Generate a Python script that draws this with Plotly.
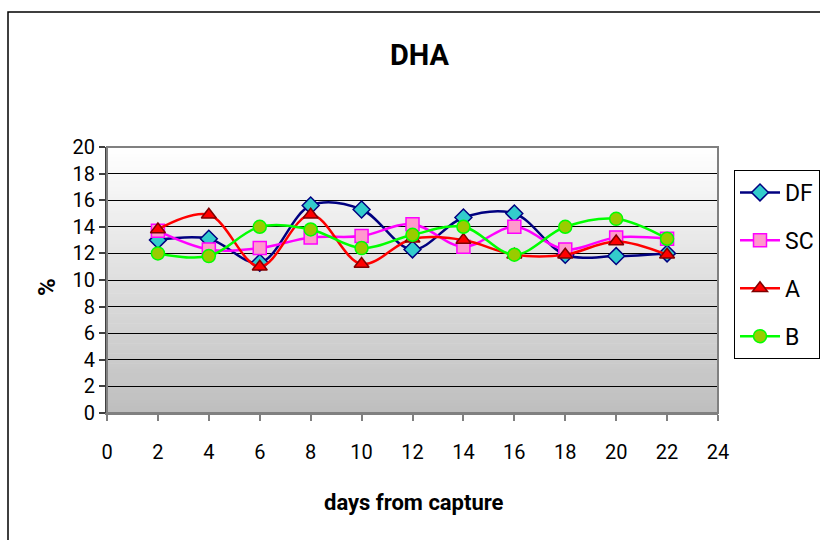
import plotly.graph_objects as go

# DHA content (%) by days from capture for four groups
days = [2, 4, 6, 8, 10, 12, 14, 16, 18, 20, 22]
df_vals = [13.0, 13.1, 11.3, 15.6, 15.3, 12.3, 14.7, 15.0, 11.9, 11.8, 12.0]
sc_vals = [13.7, 12.3, 12.4, 13.2, 13.3, 14.2, 12.5, 14.0, 12.3, 13.2, 13.1]
a_vals = [13.8, 14.9, 11.0, 14.9, 11.2, 13.1, 13.0, 11.9, 11.9, 12.9, 11.9]
b_vals = [12.0, 11.8, 14.0, 13.8, 12.4, 13.4, 14.0, 11.9, 14.0, 14.6, 13.1]

x_ticks = list(range(0, 25, 2))
y_ticks = list(range(0, 21, 2))

FONT = "Liberation Sans Narrow, Arial Narrow, Roboto, sans-serif"

series = [
    ("DF", df_vals, "#000080", "diamond", "#33cccc", "#000080"),
    ("SC", sc_vals, "#ff00ff", "square", "#ff99cc", "#ff00ff"),
    ("A", a_vals, "#ff0000", "triangle-up", "#ff0000", "#800000"),
    ("B", b_vals, "#00ff00", "circle", "#99cc00", "#00ff00"),
]

fig = go.Figure()
for name, vals, lc, sym, fc, mc in series:
    fig.add_trace(go.Scatter(
        x=days, y=vals, name=name, mode="lines+markers",
        legendgroup=name,
        line=dict(color=lc, width=2.5, shape="spline", smoothing=1.0),
        marker=dict(symbol=sym, size=13, color=fc, line=dict(color=mc, width=1.5)),
    ))

# vertical white-to-grey gradient behind the plot area
shapes = []
n = 80
top = (255, 255, 255)
bot = (190, 190, 190)
for k in range(n):
    t = (k + 0.5) / n
    c = tuple(round(top[j] + (bot[j] - top[j]) * t) for j in range(3))
    y1 = 1 - k / n
    y0 = 1 - (k + 1) / n - 0.002
    shapes.append(dict(type="rect", xref="x domain", yref="y domain",
                       x0=0, x1=1, y0=max(y0, 0), y1=y1, layer="below",
                       line=dict(width=0), fillcolor="rgb(%d,%d,%d)" % c))

# plot-area frame (grey)
shapes.append(dict(type="rect", xref="x domain", yref="y domain", x0=0, x1=1, y0=0, y1=1,
                   layer="above", line=dict(color="#808080", width=2), fillcolor="rgba(0,0,0,0)"))

# outer chart frame
pw, ph = 611, 266
shapes.append(dict(type="rect", xref="paper", yref="paper",
                   x0=(8 - 107) / pw, x1=(840 - 107) / pw,
                   y0=(413 - 560) / ph, y1=(413 - 12) / ph,
                   layer="below", line=dict(color="#000000", width=1.5),
                   fillcolor="rgba(0,0,0,0)"))


def px_x(px):
    return (px - 107) / pw


def px_y(py):
    return (413 - py) / ph


fig.update_layout(
    width=820, height=540,
    margin=dict(l=107, r=102, t=147, b=127, autoexpand=False),
    paper_bgcolor="white", plot_bgcolor="rgba(0,0,0,0)",
    shapes=shapes,
    showlegend=True,
    legend=dict(x=px_x(734), y=px_y(170), xanchor="left", yanchor="top",
                bgcolor="white", bordercolor="black", borderwidth=1,
                font=dict(family=FONT, size=23, color="black"),
                tracegroupgap=15, traceorder="grouped", itemwidth=40),
    annotations=[
        dict(text="<b>DHA</b>", xref="paper", yref="paper",
             x=px_x(420), y=px_y(55), xanchor="center", yanchor="middle", showarrow=False,
             font=dict(family=FONT, size=29, color="black")),
        dict(text="<b>days from capture</b>", xref="paper", yref="paper",
             x=px_x(414), y=px_y(502), xanchor="center", yanchor="middle", showarrow=False,
             font=dict(family=FONT, size=22, color="black")),
        dict(text="<b>%</b>", xref="paper", yref="paper",
             x=px_x(47), y=px_y(287), xanchor="center", yanchor="middle",
             showarrow=False, textangle=-90,
             font=dict(family=FONT, size=24, color="black")),
    ],
    font=dict(family=FONT, color="black"),
)

fig.update_xaxes(range=[0, 24], tickvals=x_ticks, ticktext=[str(v) for v in x_ticks],
                 ticks="outside", ticklen=6, tickcolor="#808080", tickwidth=1.5,
                 showline=True, linecolor="#808080", linewidth=2,
                 showgrid=False, zeroline=False, ticklabelstandoff=14,
                 tickfont=dict(family=FONT, size=20, color="black"))
fig.update_yaxes(range=[0, 20], tickvals=y_ticks, ticktext=[str(v) for v in y_ticks],
                 ticks="outside", ticklen=6, tickcolor="#404040", tickwidth=1.5,
                 showline=True, linecolor="#404040", linewidth=2,
                 showgrid=True, gridcolor="black", gridwidth=1, zeroline=False,
                 tickfont=dict(family=FONT, size=20, color="black"))

fig.write_html("out.html")
